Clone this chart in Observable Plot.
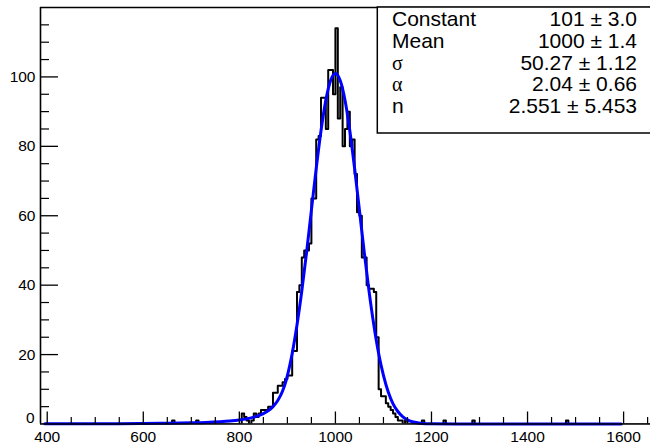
<!DOCTYPE html>
<html><head><meta charset="utf-8">
<script src="https://cdn.jsdelivr.net/npm/d3@7"></script>
<script src="https://cdn.jsdelivr.net/npm/@observablehq/plot@0.6"></script>
<style>
html,body{margin:0;padding:0;background:#fff;}
#chart{width:650px;height:444px;overflow:hidden;}
</style></head><body><div id="chart"></div>
<script>
// ---------- data ----------
const binWidth = 5;
// lower edges of non-empty bins
const binLow = [660,710,805,810,815,825,830,835,840,845,850,855,860,865,870,875,880,885,890,895,
  900,905,910,915,920,925,930,935,940,945,950,955,960,965,970,975,980,985,990,995,
  1000,1005,1010,1015,1020,1025,1030,1035,1040,1045,1050,1055,1060,1065,1070,1075,1080,1085,1090,1095,
  1100,1105,1110,1115,1120,1125,1130,1135,1145,1180,1225,1285,1480];
const binCount = [1,1,3,2,1,1,3,2,3,4,4,4,5,5,9,9,11,11,12,13,
  14,14,21,21,38,40,48,50,50,52,65,65,82,83,94,94,85,102,102,95,
  114,88,97,80,85,90,80,82,72,61,60,48,48,40,39,39,38,25,10,8,
  8,6,5,4,3,2,1,1,1,1,1,1,1];
// fitted curve
const fitX = [395,450,500,550,600,650,700,730,760,780,800,820,840,850,860,870,880,890,897.5,905,
  910,920,930,940,950,960,970,980,990,1000,1010,1020,1030,1040,1050,1060,1070,1080,1090,1100,
  1110,1120,1130,1140,1150,1160,1180,1200,1250,1300,1400,1500,1595];
const fitY = [0.05,0.06,0.08,0.1,0.15,0.21,0.34,0.46,0.66,0.86,1.16,1.63,2.4,3.0,3.8,5.0,6.75,9.5,12.6,16.9,
  20.3,28.5,38.3,49.5,61.6,73.6,84.5,93.3,99,101,99,93.3,84.5,73.6,61.6,49.5,38.3,28.5,20.3,14.0,
  9.2,5.8,3.6,2.1,1.2,0.64,0.17,0.04,0,0,0,0,0];
const xMajor = [400,600,800,1000,1200,1400,1600];
const xMinor = [450,500,550,650,700,750,850,900,950,1050,1100,1150,1250,1300,1350,1450,1500,1550,1650];
const yMajor = [0,20,40,60,80,100];
const yMinor = [5,10,15,25,30,35,45,50,55,65,70,75,85,90,95,105,110,115];
const statNames = ["Constant","Mean","σ","α","n"];
const statValues = ["101 ± 3.0","1000 ± 1.4","50.27 ± 1.12","2.04 ± 0.66","2.551 ± 5.453"];

// ---------- build histogram step table ----------
const xLo = 386, xHi = 1656;
const countMap = new Map(binLow.map((b,i)=>[b,binCount[i]]));
const steps = [];
for (let e = 385; e < xHi; e += binWidth) steps.push({x:e, y: countMap.get(e) || 0});
steps.push({x: xHi, y: 0});
const fit = fitX.map((x,i)=>({x, y: fitY[i]}));

const ML=40, MR=0, MT=7, MB=20.5, W=650, H=444;
const FH = H-MT-MB, FW = W-ML-MR;
const font = "Liberation Sans, Arial, Helvetica, sans-serif";

const svg = Plot.plot({
  width: W, height: H,
  marginLeft: ML, marginRight: MR, marginTop: MT, marginBottom: MB,
  style: {fontFamily: font, background: "white", overflow: "visible"},
  x: {domain: [xLo, xHi], axis: null},
  y: {domain: [0, 120], axis: null},
  marks: [
    Plot.line(steps, {x:"x", y:"y", curve:"step-after", stroke:"black", strokeWidth:2, clip:true}),
    Plot.line(fit, {x:"x", y:"y", curve:"monotone-x", stroke:"#0000ff", strokeWidth:3}),
    // frame lines
    Plot.ruleY([0], {stroke:"black", strokeWidth:1.6}),
    Plot.ruleY([120], {stroke:"black", strokeWidth:1.4}),
    Plot.ruleX([xLo], {stroke:"black", strokeWidth:1.6}),
    // inward ticks
    Plot.tickX(xMajor, {x:d=>d, insetTop: FH-12, stroke:"black", strokeWidth:1.3}),
    Plot.tickX(xMinor, {x:d=>d, insetTop: FH-6.5, stroke:"black", strokeWidth:1.2}),
    Plot.tickY(yMajor.filter(d=>d>0), {y:d=>d, insetRight: FW-18, stroke:"black", strokeWidth:1.3}),
    Plot.tickY(yMinor, {y:d=>d, insetRight: FW-9, stroke:"black", strokeWidth:1.2}),
    // tick labels
    Plot.text(xMajor, {x:d=>d, frameAnchor:"bottom", dy: 7, lineAnchor:"top", text:d=>String(d), fontSize:15.5, fill:"black"}),
    Plot.text(yMajor.filter(d=>d>0), {y:d=>d, frameAnchor:"left", dx:-5, textAnchor:"end", text:d=>String(d), fontSize:15.5, fill:"black"}),
    Plot.text([0], {y:d=>d, frameAnchor:"left", dx:-6, dy:-6, textAnchor:"end", text:d=>String(d), fontSize:15.5, fill:"black"})
  ]
});
document.getElementById("chart").appendChild(svg);

// ---------- statistics box ----------
const s = d3.select(svg);
const g = s.append("g");
g.append("rect").attr("x",377.3).attr("y",MT).attr("width",W-377.3+5).attr("height",133-MT)
  .attr("fill","white").attr("stroke","black").attr("stroke-width",1.5);
const baselines = [26,48,69.5,91,113];
statNames.forEach((n,i)=>{
  const greek = (n==="σ"||n==="α");
  g.append("text").attr("x",392).attr("y",baselines[i]).attr("text-anchor","start")
    .attr("font-family", greek ? "Liberation Serif, DejaVu Serif, serif" : font)
    .attr("font-size", greek ? 20 : 21).attr("fill","black").text(n);
  g.append("text").attr("x",637).attr("y",baselines[i]).attr("text-anchor","end")
    .attr("font-family",font).attr("font-size",21).attr("fill","black").text(statValues[i]);
});
</script>
</body></html>
